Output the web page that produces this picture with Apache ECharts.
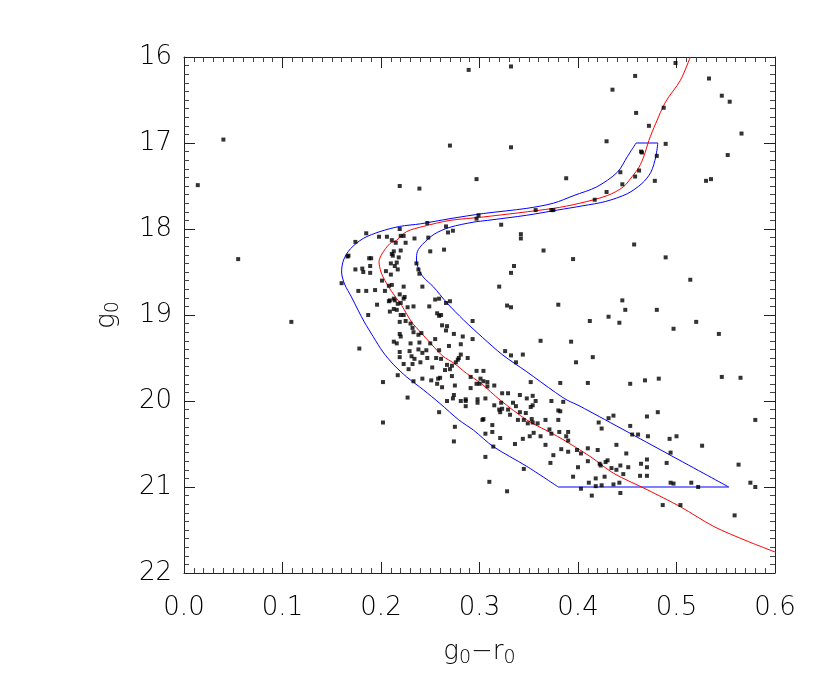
<!DOCTYPE html>
<html>
<head>
<meta charset="utf-8">
<script src="https://cdn.jsdelivr.net/npm/echarts@6/dist/echarts.min.js"></script>
<style>
  html, body { margin: 0; padding: 0; background: #fff; }
  #cmd { width: 830px; height: 691px; }
</style>
</head>
<body>
<div id="cmd"></div>
<script>
// axis ranges (g0 is plotted bright-at-top)
const colorRange = [0.0, 0.6]
const magRange = [16, 22]

// stars: [g0-r0, g0]
const stars = [
  [0.040, 16.96], [0.014, 17.49], [0.055, 18.35], [0.109, 19.08],
  [0.289, 16.15], [0.332, 16.11], [0.270, 17.03], [0.332, 17.05], [0.219, 17.50], [0.239, 17.53],
  [0.297, 17.42], [0.388, 17.41], [0.299, 17.84], [0.297, 17.88], [0.357, 17.78], [0.373, 17.78], [0.375, 17.78],
  [0.499, 16.07], [0.458, 16.22], [0.533, 16.25], [0.435, 16.38], [0.546, 16.45], [0.554, 16.52],
  [0.459, 16.65], [0.487, 16.59], [0.472, 16.80], [0.566, 16.89], [0.429, 16.98], [0.489, 17.01],
  [0.464, 17.10], [0.465, 17.11], [0.480, 17.15], [0.552, 17.14], [0.443, 17.34], [0.462, 17.32],
  [0.458, 17.39], [0.445, 17.48], [0.478, 17.44], [0.530, 17.44], [0.535, 17.42], [0.429, 17.57], [0.417, 17.66],
  [0.219, 18.00], [0.247, 17.93], [0.266, 17.97], [0.185, 18.05], [0.198, 18.09], [0.206, 18.09],
  [0.211, 18.13], [0.220, 18.08], [0.223, 18.08], [0.234, 18.11], [0.248, 18.10], [0.268, 18.04],
  [0.273, 18.02], [0.174, 18.15], [0.225, 18.16], [0.215, 18.16], [0.220, 18.25], [0.213, 18.26],
  [0.211, 18.29], [0.212, 18.31], [0.218, 18.33], [0.188, 18.34], [0.190, 18.34], [0.167, 18.31],
  [0.166, 18.32], [0.250, 18.26], [0.264, 18.24], [0.236, 18.40], [0.210, 18.40], [0.216, 18.39],
  [0.214, 18.43], [0.217, 18.47], [0.189, 18.43], [0.181, 18.46], [0.174, 18.47], [0.182, 18.50],
  [0.189, 18.51], [0.205, 18.49], [0.210, 18.53], [0.238, 18.47], [0.239, 18.52], [0.160, 18.63],
  [0.201, 18.60], [0.211, 18.65], [0.208, 18.66], [0.223, 18.67], [0.242, 18.67], [0.177, 18.72],
  [0.185, 18.72], [0.194, 18.71], [0.204, 18.72], [0.219, 18.76], [0.224, 18.79], [0.223, 18.81],
  [0.213, 18.81], [0.209, 18.83], [0.208, 18.84], [0.214, 18.83], [0.217, 18.87], [0.220, 18.86],
  [0.196, 18.88], [0.227, 18.91], [0.233, 18.90], [0.213, 18.93], [0.209, 18.96], [0.216, 18.94],
  [0.249, 18.90], [0.255, 18.82], [0.259, 18.81], [0.266, 18.86], [0.270, 18.84], [0.257, 18.98],
  [0.261, 19.00], [0.259, 19.01], [0.220, 19.00], [0.223, 19.00], [0.187, 19.00],
  [0.219, 19.08], [0.225, 19.07], [0.230, 19.10], [0.293, 19.07], [0.262, 19.12], [0.267, 19.13],
  [0.266, 19.18], [0.232, 19.15], [0.233, 19.20], [0.219, 19.22], [0.220, 19.25], [0.238, 19.23],
  [0.241, 19.21], [0.274, 19.22], [0.283, 19.25], [0.255, 19.28], [0.293, 19.28], [0.213, 19.31],
  [0.216, 19.33], [0.230, 19.33], [0.239, 19.32], [0.250, 19.33], [0.269, 19.36], [0.281, 19.34],
  [0.178, 19.39], [0.229, 19.42], [0.238, 19.40], [0.246, 19.41], [0.242, 19.44], [0.219, 19.43],
  [0.259, 19.41], [0.219, 19.49], [0.231, 19.48], [0.234, 19.51], [0.247, 19.50], [0.256, 19.50],
  [0.261, 19.51], [0.281, 19.46], [0.279, 19.50], [0.278, 19.52], [0.276, 19.55], [0.288, 19.50],
  [0.223, 19.57], [0.232, 19.57], [0.240, 19.55], [0.267, 19.58], [0.272, 19.59], [0.270, 19.63],
  [0.228, 19.63], [0.252, 19.61], [0.265, 19.64], [0.297, 19.65], [0.304, 19.65], [0.217, 19.70],
  [0.202, 19.78], [0.233, 19.77], [0.242, 19.74], [0.251, 19.76], [0.257, 19.80], [0.258, 19.74],
  [0.260, 19.73], [0.262, 19.84], [0.272, 19.71], [0.275, 19.82], [0.291, 19.72], [0.301, 19.74],
  [0.304, 19.77], [0.308, 19.78], [0.297, 19.80], [0.300, 19.80], [0.291, 19.85], [0.308, 19.83],
  [0.227, 19.96], [0.273, 19.97], [0.274, 19.93], [0.286, 19.98], [0.298, 19.98], [0.306, 19.97],
  [0.322, 17.95], [0.342, 18.06], [0.342, 18.11], [0.365, 18.25], [0.395, 18.35], [0.335, 18.43],
  [0.332, 18.51], [0.320, 18.67], [0.328, 18.89], [0.332, 18.91], [0.380, 18.88], [0.362, 19.30],
  [0.393, 19.31], [0.326, 19.42], [0.332, 19.47], [0.344, 19.46], [0.337, 19.55], [0.398, 19.55],
  [0.352, 19.78], [0.382, 19.79], [0.315, 19.82], [0.323, 19.91], [0.329, 19.91], [0.341, 19.93],
  [0.348, 19.97], [0.354, 19.94],
  [0.457, 18.18], [0.489, 18.33], [0.514, 18.59], [0.445, 18.83], [0.448, 18.94], [0.480, 18.94],
  [0.412, 19.07], [0.431, 19.02], [0.442, 19.09], [0.497, 19.16], [0.520, 19.08], [0.543, 19.22],
  [0.415, 19.49], [0.410, 19.79], [0.453, 19.80], [0.468, 19.76], [0.482, 19.74], [0.546, 19.72],
  [0.565, 19.73],
  [0.202, 20.25], [0.259, 20.13], [0.267, 20.00], [0.275, 20.30], [0.274, 20.47], [0.281, 20.00],
  [0.286, 20.00], [0.286, 20.06], [0.298, 20.02], [0.303, 20.22], [0.304, 20.21], [0.306, 20.38],
  [0.313, 20.28], [0.313, 20.36], [0.314, 20.53], [0.306, 20.65], [0.310, 20.94], [0.328, 21.05],
  [0.315, 20.05], [0.320, 20.10], [0.321, 20.13], [0.323, 20.09], [0.322, 20.02], [0.329, 20.10],
  [0.331, 20.16], [0.334, 20.02], [0.337, 20.06], [0.341, 20.13], [0.339, 20.22], [0.345, 20.22],
  [0.347, 20.14], [0.349, 20.26], [0.353, 20.21], [0.354, 20.25], [0.352, 20.07], [0.354, 20.05],
  [0.357, 20.00], [0.359, 20.26], [0.355, 20.37], [0.351, 20.41], [0.344, 20.44], [0.336, 20.50],
  [0.321, 20.43], [0.362, 20.41], [0.367, 20.22], [0.371, 20.33], [0.373, 20.38], [0.367, 20.51],
  [0.375, 20.63], [0.372, 20.72], [0.345, 20.79], [0.380, 20.22], [0.381, 20.36], [0.388, 20.41],
  [0.390, 20.36], [0.390, 20.46], [0.383, 20.56], [0.390, 20.59], [0.399, 20.57], [0.403, 20.61],
  [0.410, 20.55], [0.410, 20.70], [0.400, 20.77], [0.395, 20.88], [0.403, 21.02], [0.411, 20.95],
  [0.380, 20.11], [0.382, 20.12], [0.385, 20.01], [0.373, 20.00],
  [0.436, 20.17], [0.431, 20.20], [0.481, 20.13], [0.470, 20.18], [0.580, 20.22], [0.421, 20.25],
  [0.424, 20.32], [0.453, 20.29], [0.455, 20.39], [0.461, 20.39], [0.471, 20.41], [0.493, 20.44],
  [0.500, 20.41], [0.526, 20.52], [0.439, 20.51], [0.420, 20.57], [0.449, 20.61], [0.494, 20.60],
  [0.422, 20.73], [0.423, 20.75], [0.428, 20.71], [0.430, 20.69], [0.434, 20.78], [0.439, 20.80],
  [0.443, 20.75], [0.446, 20.85], [0.451, 20.77], [0.464, 20.73], [0.470, 20.68], [0.470, 20.77],
  [0.463, 20.87], [0.470, 20.87], [0.490, 20.72], [0.427, 20.88], [0.418, 20.90], [0.418, 20.99],
  [0.424, 20.98], [0.436, 20.97], [0.442, 20.95], [0.494, 20.95], [0.497, 20.96], [0.515, 20.95],
  [0.522, 21.00], [0.414, 21.10], [0.443, 21.07], [0.486, 21.21], [0.504, 21.21], [0.563, 20.74],
  [0.575, 20.95], [0.580, 21.00], [0.559, 21.33]
]

// fiducial isochrone (red)
const isochrone = [
  [0.514, 16.00], [0.504, 16.27], [0.489, 16.52], [0.479, 16.77], [0.472, 16.97], [0.467, 17.15],
  [0.462, 17.28], [0.455, 17.39], [0.446, 17.51], [0.430, 17.61], [0.402, 17.70], [0.375, 17.76],
  [0.304, 17.86], [0.270, 17.90], [0.243, 17.97], [0.226, 18.03], [0.216, 18.13], [0.209, 18.17],
  [0.201, 18.29], [0.198, 18.38], [0.200, 18.50], [0.204, 18.60], [0.211, 18.73], [0.221, 18.89],
  [0.231, 19.08], [0.241, 19.21], [0.252, 19.35], [0.263, 19.48], [0.274, 19.56], [0.287, 19.68],
  [0.301, 19.79], [0.311, 19.89], [0.321, 19.99], [0.348, 20.22], [0.379, 20.41], [0.413, 20.65],
  [0.436, 20.84], [0.470, 21.03], [0.504, 21.23], [0.538, 21.46], [0.572, 21.63], [0.601, 21.76]
]

// selection box (blue): blue side, from top corner down to 21 mag
const boxBlueSide = [
  [0.459, 17.00], [0.450, 17.16], [0.440, 17.34], [0.419, 17.51], [0.396, 17.61], [0.375, 17.70],
  [0.348, 17.76], [0.304, 17.82], [0.270, 17.88], [0.240, 17.94], [0.219, 17.97], [0.199, 18.03],
  [0.182, 18.11], [0.169, 18.23], [0.162, 18.36], [0.160, 18.50], [0.163, 18.64], [0.170, 18.79],
  [0.177, 18.95], [0.183, 19.08], [0.192, 19.25], [0.202, 19.43], [0.213, 19.58], [0.226, 19.72],
  [0.243, 19.87], [0.260, 20.03], [0.279, 20.22], [0.294, 20.34], [0.314, 20.53], [0.348, 20.76],
  [0.380, 21.00]
]
// red side, from 21 mag back up to the top corner
const boxRedSide = [
  [0.553, 21.00], [0.402, 20.06], [0.389, 19.99], [0.377, 19.90], [0.348, 19.66], [0.323, 19.46],
  [0.303, 19.26], [0.284, 19.06], [0.267, 18.86], [0.253, 18.67], [0.243, 18.56],
  [0.238, 18.46], [0.236, 18.36], [0.237, 18.26], [0.242, 18.18], [0.254, 18.06], [0.270, 17.98],
  [0.294, 17.92], [0.308, 17.90], [0.348, 17.84], [0.379, 17.78], [0.405, 17.73], [0.428, 17.68],
  [0.450, 17.59], [0.465, 17.47], [0.474, 17.34], [0.479, 17.16], [0.481, 17.00]
]

const font = 'DejaVu Sans'
const sub = (s) => s.replace(/0/g, '{s|0}')
const nameRich = {
  a: { fontSize: 26, fontFamily: font, fontWeight: 200, color: '#000', verticalAlign: 'bottom' },
  s: { fontSize: 19, fontFamily: font, fontWeight: 200, color: '#000', verticalAlign: 'bottom', padding: [0, 0, -3, 0] }
}
const lineStyle = { color: '#222', width: 1 }
const blue = { color: '#0000ff', width: 1 }

// axis helpers
function xAxisAt (pos, extra) {
  return Object.assign({
    type: 'value',
    min: colorRange[0],
    max: colorRange[1],
    interval: 0.1,
    position: pos,
    axisLine: { onZero: false, lineStyle: lineStyle },
    axisTick: { inside: true, length: 11, lineStyle: lineStyle },
    minorTick: { show: true, splitNumber: 10, length: 5, lineStyle: { color: '#444' } },
    splitLine: { show: false },
    axisLabel: { show: false }
  }, extra)
}
function yAxisAt (pos, extra) {
  return Object.assign({
    type: 'value',
    inverse: true,
    min: magRange[0],
    max: magRange[1],
    interval: 1,
    position: pos,
    axisLine: { show: true, onZero: false, lineStyle: lineStyle },
    axisTick: { show: true, inside: true, length: 11, lineStyle: lineStyle },
    minorTick: { show: true, splitNumber: 10, length: 5, lineStyle: { color: '#444' } },
    splitLine: { show: false },
    axisLabel: { show: false }
  }, extra)
}

var chart = echarts.init(document.getElementById('cmd'))
chart.setOption({
  animation: false,
  backgroundColor: '#fff',
  grid: { left: 184, right: 55, top: 57, bottom: 118 },
  xAxis: [
    xAxisAt('bottom', {
      name: '{a|g}' + sub('0') + '{a|−r}' + sub('0'),
      nameLocation: 'middle',
      nameGap: 66,
      nameTextStyle: { rich: nameRich },
      axisLabel: {
        margin: 22,
        fontSize: 26,
        fontFamily: font,
        fontWeight: 200,
        color: '#000',
        formatter: (v) => v.toFixed(1)
      }
    }),
    xAxisAt('top')
  ],
  yAxis: [
    yAxisAt('left', {
      name: '{a|g}' + sub('0'),
      nameLocation: 'middle',
      nameGap: 64,
      nameRotate: 90,
      nameTextStyle: { rich: nameRich },
      axisLabel: { show: true, margin: 12, fontSize: 26, fontFamily: font, fontWeight: 200, color: '#000' }
    }),
    yAxisAt('right')
  ],
  series: [
    {
      name: 'box',
      type: 'line',
      data: boxBlueSide,
      showSymbol: false,
      smooth: 0.3,
      lineStyle: blue,
      z: 2
    },
    {
      name: 'box',
      type: 'line',
      data: boxRedSide,
      showSymbol: false,
      smooth: 0.3,
      lineStyle: blue,
      z: 2
    },
    {
      name: 'box',
      type: 'line',
      data: [boxBlueSide[boxBlueSide.length - 1], boxRedSide[0]],
      showSymbol: false,
      lineStyle: blue,
      z: 2
    },
    {
      name: 'box',
      type: 'line',
      data: [boxRedSide[boxRedSide.length - 1], boxBlueSide[0]],
      showSymbol: false,
      lineStyle: blue,
      z: 2
    },
    {
      name: 'isochrone',
      type: 'line',
      data: isochrone,
      showSymbol: false,
      smooth: 0.3,
      lineStyle: { color: '#ff0000', width: 1 },
      z: 3
    },
    {
      name: 'stars',
      type: 'scatter',
      data: stars,
      symbol: 'rect',
      symbolSize: 4,
      itemStyle: { color: '#000' },
      z: 4
    }
  ]
})
</script>
</body>
</html>
